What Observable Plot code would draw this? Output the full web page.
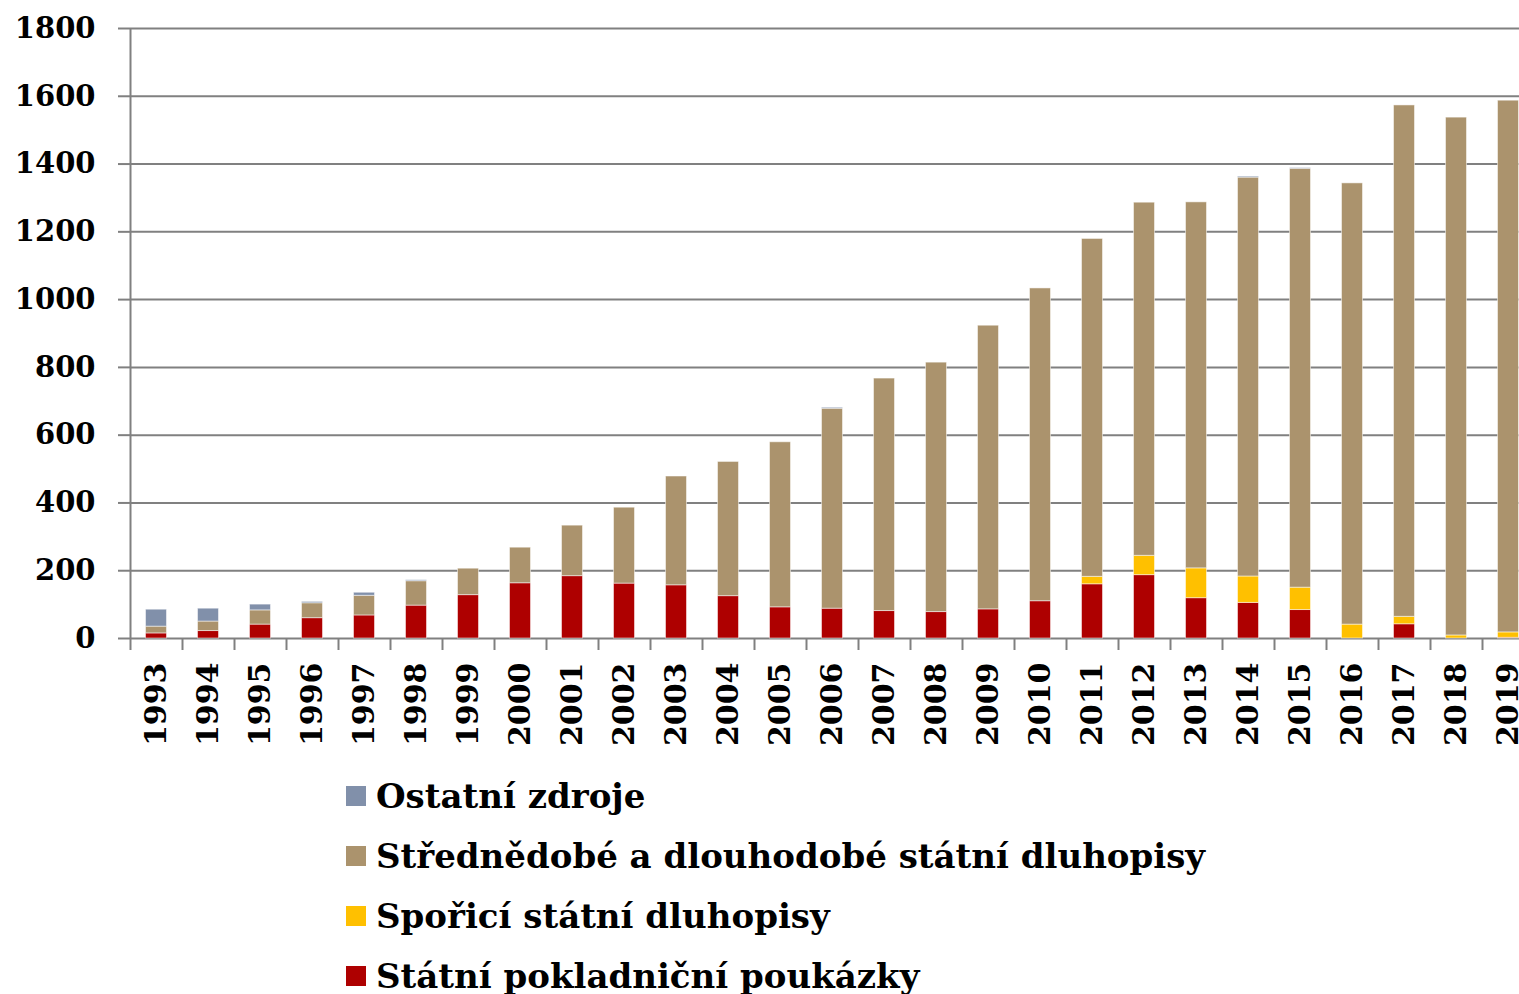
<!DOCTYPE html>
<html>
<head>
<meta charset="utf-8">
<script src="https://cdn.jsdelivr.net/npm/d3@7"></script>
<script src="https://cdn.jsdelivr.net/npm/@observablehq/plot@0.6"></script>
<style>
  html, body { margin: 0; padding: 0; background: #fff; overflow: hidden; }
  #chart svg { max-width: none !important; }
  .legend { padding-left: 346px; margin-top: 6px; font-family: "DejaVu Serif", serif; font-weight: bold; font-size: 34px; color: #000; }
  .legend .row { display: flex; align-items: center; height: 60px; }
  .legend .sw { width: 20px; height: 20px; margin-right: 10px; flex: none; }
</style>
</head>
<body>
<div id="chart"></div>
<script>
const years = ["1993","1994","1995","1996","1997","1998","1999","2000","2001","2002","2003","2004","2005","2006","2007","2008","2009","2010","2011","2012","2013","2014","2015","2016","2017","2018","2019"];
const seriesNames = ["Státní pokladniční poukázky", "Spořicí státní dluhopisy", "Střednědobé a dlouhodobé státní dluhopisy", "Ostatní zdroje"];
const seriesColors = ["#ae0000", "#ffc000", "#ab936d", "#8190aa"];
const pokladnicni = [15,22,41,60,68,97,128,163,184,162,157,125,92,88,81,78,86,110,160,187,119,105,84,0,42,0,2];
const sporici = [0,0,0,0,0,0,0,0,0,0,0,0,0,0,0,0,0,0,22,57,88,78,66,41,22,9,16];
const strednedobe = [20,28,42,44,58,72,78,105,149,224,321,396,487,590,686,736,837,923,997,1042,1080,1177,1236,1302,1509,1528,1569];
const ostatni = [50,38,17,4,9,3,0,0,0,0,0,0,0,3,0,0,0,0,0,0,0,3,2,0,0,0,0];
const yTicks = [0,200,400,600,800,1000,1200,1400,1600,1800];

const seriesValues = [pokladnicni, sporici, strednedobe, ostatni];
const rows = [];
seriesNames.forEach((name, s) => {
  years.forEach((y, i) => rows.push({year: y, series: name, value: seriesValues[s][i]}));
});

const grid = "#808080";
const chart = Plot.plot({
  width: 1536,
  height: 760,
  marginLeft: 130,
  marginRight: 2,
  marginTop: 28,
  marginBottom: 122,
  style: {fontFamily: "DejaVu Serif", fontWeight: "bold", fontSize: "29px", color: "#000", background: "#fff"},
  x: {type: "band", domain: years, padding: 0, label: null},
  y: {domain: [0, 1800], label: null},
  color: {domain: seriesNames, range: seriesColors},
  marks: [
    Plot.gridY(yTicks, {stroke: grid, strokeOpacity: 1, strokeWidth: 2}),
    Plot.axisY(yTicks, {tickSize: 12, tickPadding: 23, stroke: grid, strokeWidth: 2, fontSize: 29, tickFormat: d => String(d), label: null}),
    Plot.barY(rows, Plot.stackY({order: seriesNames}, {x: "year", y: "value", fill: "series", insetLeft: 15.5, insetRight: 15.5, stroke: "#fff", strokeOpacity: 0.5, strokeWidth: 1})),
    Plot.ruleX([years[0]], {x: d => d, dx: -26, y1: 0, y2: 1800, stroke: grid, strokeWidth: 2}),
    Plot.axisX({tickSize: 12, dx: -26, stroke: grid, strokeWidth: 2, tickFormat: () => "", label: null}),
    Plot.axisX({tickSize: 0, tickPadding: 24, tickRotate: -90, fontSize: 30, label: null})
  ]
});
document.getElementById("chart").appendChild(chart);

const legend = document.createElement("div");
legend.className = "legend";
[3, 2, 1, 0].forEach(s => {
  const row = document.createElement("div");
  row.className = "row";
  const sw = document.createElement("span");
  sw.className = "sw";
  sw.style.background = seriesColors[s];
  const t = document.createElement("span");
  t.textContent = seriesNames[s];
  row.appendChild(sw);
  row.appendChild(t);
  legend.appendChild(row);
});
document.body.appendChild(legend);
</script>
</body>
</html>
